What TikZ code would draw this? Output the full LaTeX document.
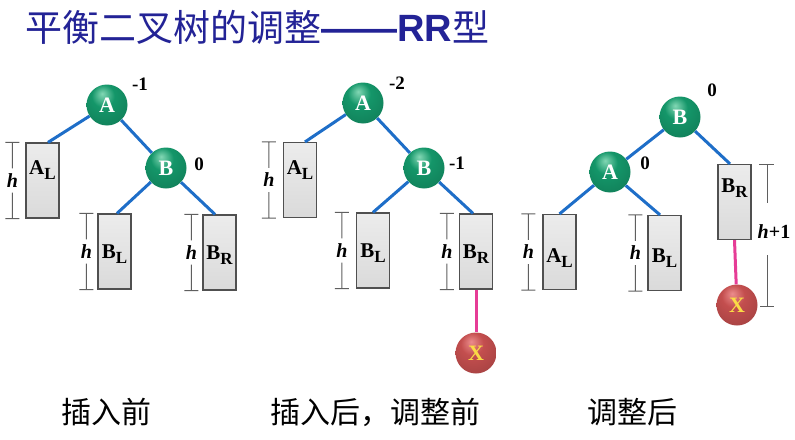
\documentclass[tikz,border=0pt]{standalone}
\usepackage{fontspec}
\setmainfont{Liberation Serif}
\newfontfamily\cjk{Noto Sans CJK SC}
\newfontfamily\arial{Liberation Sans}
\usetikzlibrary{calc}

\definecolor{titleblue}{RGB}{35,35,150}
\definecolor{edgeblue}{RGB}{30,110,200}
\definecolor{ghi}{RGB}{130,215,180}
\definecolor{gmid}{RGB}{20,150,105}
\definecolor{gedge}{RGB}{0,85,58}
\definecolor{rhi}{RGB}{235,140,140}
\definecolor{rmid}{RGB}{195,78,78}
\definecolor{redge}{RGB}{115,35,35}
\definecolor{pinkline}{RGB}{230,60,150}
\definecolor{boxtop}{RGB}{236,236,236}
\definecolor{boxbot}{RGB}{218,218,218}
\definecolor{boxdraw}{RGB}{80,80,80}
\definecolor{brack}{RGB}{95,95,95}
\definecolor{xyellow}{RGB}{250,220,70}

\pgfdeclareradialshading{greenball}{\pgfpoint{-6bp}{14bp}}{%
  color(0bp)=(ghi); color(14bp)=(gmid); color(36bp)=(gmid!85!black); color(52bp)=(gedge); color(70bp)=(gedge)}
\pgfdeclareradialshading{redball}{\pgfpoint{-6bp}{14bp}}{%
  color(0bp)=(rhi); color(14bp)=(rmid); color(36bp)=(rmid!85!black); color(52bp)=(redge); color(70bp)=(redge)}

\newcommand\lsub[1]{\raisebox{-5pt}{\fontsize{17}{17}\selectfont #1}}
\newcommand\hmark[3]{%
  \coordinate (#3t) at ([xshift=-#2pt]#1.north west);
  \coordinate (#3b) at ([xshift=-#2pt]#1.south west);
  \node[hlab] (#3h) at ($(#3t)!0.5!(#3b)$) {h};
  \draw[brk] ([xshift=-7pt]#3t) -- ([xshift=7pt]#3t) (#3t) -- (#3h.north)
             (#3h.south) -- (#3b) ([xshift=-7pt]#3b) -- ([xshift=7pt]#3b);}

\begin{document}
\begin{tikzpicture}[x=1pt,y=-1pt,
  ball/.style={circle, minimum size=41pt, inner sep=0pt, shading=greenball,
    text=white, font=\fontsize{22}{22}\selectfont\bfseries},
  xball/.style={circle, minimum size=41pt, inner sep=0pt, shading=redball,
    text=xyellow, font=\fontsize{22}{22}\selectfont\bfseries},
  subtree/.style={rectangle, minimum width=33pt, minimum height=75pt, inner sep=0pt,
    draw=boxdraw, line width=1.2pt, top color=boxtop, bottom color=boxbot},
  sublab/.style={inner sep=0pt, font=\fontsize{21}{21}\selectfont\bfseries},
  bal/.style={inner sep=0pt, font=\fontsize{19}{19}\selectfont\bfseries},
  hlab/.style={inner xsep=1pt, inner ysep=5pt, font=\fontsize{20}{20}\selectfont\bfseries\itshape},
  tree/.style={edgeblue, line width=3pt},
  xedge/.style={pinkline, line width=3pt},
  brk/.style={brack, line width=1pt},
  captxt/.style={inner sep=0pt, font=\cjk\fontsize{30}{30}\selectfont}
]
\useasboundingbox[fill=white] (0,0) rectangle (795,439);

% title
\node[anchor=west, inner sep=0pt, text=titleblue] (title) at (25,27)
  {\cjk\fontsize{37}{37}\selectfont 平衡二叉树的调整{\arial\bfseries\fontsize{38}{38}\selectfont ——RR}型};

% ---------------- panel 1
\node[ball] (A1) at (107,105) {A};
\node[ball] (B1) at (166,168) {B};
\node[bal] (nA1) at (140,84) {-1};
\node[bal] (nB1) at (199,164) {0};
\node[subtree] (AL1) at (42.5,180.5) {};
\node[subtree] (BL1) at (114.5,251.5) {};
\node[subtree] (BR1) at (219.5,252.5) {};
\node[sublab] (tAL1) at ([yshift=10pt]AL1.center) {A\lsub{L}};
\node[sublab] (tBL1) at ([yshift=-3pt]BL1.center) {B\lsub{L}};
\node[sublab] (tBR1) at ([yshift=-3pt]BR1.center) {B\lsub{R}};
\draw[tree] (A1) -- ([xshift=5.5pt]AL1.north);
\draw[tree] (A1) -- (B1);
\draw[tree] (B1) -- ([xshift=2.5pt]BL1.north);
\draw[tree] (B1) -- ([xshift=-4.5pt]BR1.north);
\hmark{AL1}{13}{p1a}
\hmark{BL1}{11}{p1b}
\hmark{BR1}{11}{p1c}
\node[captxt] (cap1) at (106,412) {插入前};

% ---------------- panel 2
\node[ball] (A2) at (363,103) {A};
\node[ball] (B2) at (424,168) {B};
\node[bal] (nA2) at (397,83) {-2};
\node[bal] (nB2) at (457,163) {-1};
\node[subtree] (AL2) at (300,180) {};
\node[subtree] (BL2) at (373,250.5) {};
\node[subtree] (BR2) at (476,251.5) {};
\node[sublab] (tAL2) at ([yshift=10pt]AL2.center) {A\lsub{L}};
\node[sublab] (tBL2) at ([yshift=-3pt]BL2.center) {B\lsub{L}};
\node[sublab] (tBR2) at ([yshift=-3pt]BR2.center) {B\lsub{R}};
\node[xball] (X2) at (476,353) {X};
\draw[tree] (A2) -- ([xshift=5pt]AL2.north);
\draw[tree] (A2) -- (B2);
\draw[tree] (B2) -- (BL2.north);
\draw[tree] (B2) -- ([xshift=-3pt]BR2.north);
\draw[xedge] (BR2.south) -- (X2);
\hmark{AL2}{14}{p2a}
\hmark{BL2}{14}{p2b}
\hmark{BR2}{12}{p2c}
\node[captxt] (cap2) at (375,412) {插入后，调整前};

% ---------------- panel 3
\node[ball] (B3) at (680,117) {B};
\node[ball] (A3) at (610,172) {A};
\node[bal] (nB3) at (712,90) {0};
\node[bal] (nA3) at (645,163) {0};
\node[subtree] (BR3) at (734.5,202) {};
\node[subtree] (AL3) at (559.5,252) {};
\node[subtree] (BL3) at (664.5,253) {};
\node[sublab] (tBR3) at ([yshift=14pt]BR3.center) {B\lsub{R}};
\node[sublab] (tAL3) at ([yshift=-6pt]AL3.center) {A\lsub{L}};
\node[sublab] (tBL3) at ([yshift=-5pt]BL3.center) {B\lsub{L}};
\node[xball] (X3) at (737,305) {X};
\draw[tree] (B3) -- (A3);
\draw[tree] (B3) -- ([xshift=-4.5pt]BR3.north);
\draw[tree] (A3) -- (AL3.north);
\draw[tree] (A3) -- ([xshift=-4.5pt]BL3.north);
\draw[xedge] (BR3.south) -- (X3);
\hmark{AL3}{14}{p3a}
\hmark{BL3}{12}{p3b}
% h+1 bracket
\coordinate (p3ct) at (767,164);
\coordinate (p3cb) at (767,306);
\coordinate (p3cu) at (767,203);
\coordinate (p3cl) at (767,255);
\node[inner sep=0pt, font=\fontsize{20}{20}\selectfont\bfseries] (hp1) at (774,232) {\textit{h}+1};
\draw[brk] ([xshift=-8pt]p3ct) -- ([xshift=7pt]p3ct) (p3ct) -- (p3cu)
           (p3cl) -- (p3cb) ([xshift=-7pt]p3cb) -- ([xshift=7pt]p3cb);
\node[captxt] (cap3) at (632,412) {调整后};
\end{tikzpicture}
\end{document}
